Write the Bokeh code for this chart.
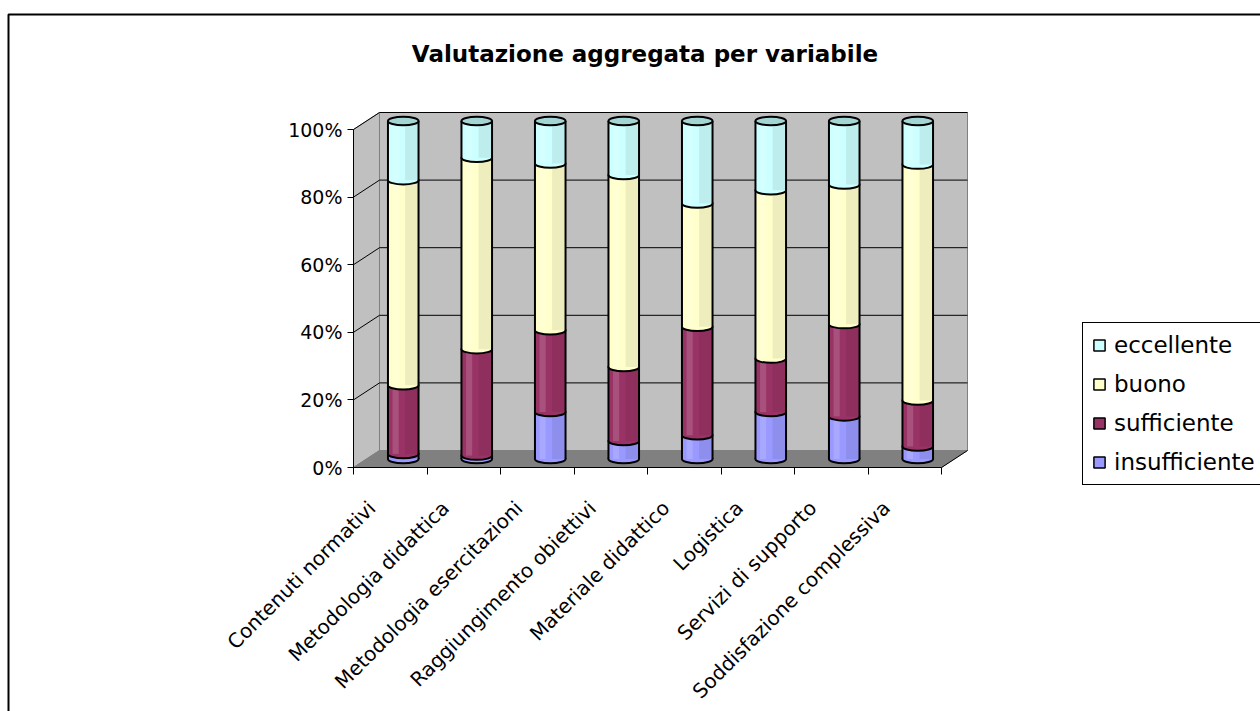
import numpy as np
from math import pi
from bokeh.plotting import figure
from bokeh.models import (Range1d, FixedTicker, NumeralTickFormatter, Legend, LegendItem,
                          Label, BoxAnnotation, ColumnDataSource)
from bokeh.embed import file_html
from bokeh.resources import INLINE

# ---------------- data ----------------
categories = ["Contenuti normativi", "Metodologia didattica", "Metodologia esercitazioni",
              "Raggiungimento obiettivi", "Materiale didattico", "Logistica",
              "Servizi di supporto", "Soddisfazione complessiva"]
insufficiente = [1.5, 1.0, 13.9, 5.3, 7.0, 13.9, 12.6, 3.7]
sufficiente = [20.3, 31.5, 24.2, 21.9, 32.1, 15.8, 27.3, 13.6]
buono = [60.7, 56.6, 49.3, 56.8, 36.5, 49.8, 41.3, 69.8]
eccellente = [17.5, 10.9, 12.6, 16.0, 24.4, 20.5, 18.8, 12.9]
series_names = ["insufficiente", "sufficiente", "buono", "eccellente"]
y_ticks = [0, 0.2, 0.4, 0.6, 0.8, 1.0]
title_text = "Valutazione aggregata per variabile"

# ---------------- layout / style ----------------
W, H = 1260, 711
FL, FR, FT, FB = 353, 967, 112, 467      # pixel box of the plotting cube
CAT_W = 73.5
PCT = 338.0
N = len(categories)
DX = (FR - FL) / CAT_W - N
DY = (FB - FT) / PCT - 1
X_END = N + DX
Y_END = 1 + DY
FONT = "DejaVu Sans"

colors = {"insufficiente": "#9999FF", "sufficiente": "#993366",
          "buono": "#FFFFCC", "eccellente": "#CCFFFF"}
CAP_COLOR = "#A3D5D5"
BW = 0.416
EH = 0.025


def sx(px):
    return (px - FL) / CAT_W


def sy(py):
    return (FB - py) / PCT


p = figure(width=W, height=H,
           x_range=Range1d(sx(0), sx(W)), y_range=Range1d(sy(H), sy(0)),
           output_backend="svg", toolbar_location=None,
           min_border_left=0, min_border_right=0,
           min_border_top=0, min_border_bottom=0,
           background_fill_color="white", border_fill_color="white",
           outline_line_color=None)
p.xgrid.visible = False
p.ygrid.visible = False

# walls and floor
p.quad(left=[DX], right=[X_END], bottom=[DY], top=[Y_END],
       fill_color="#C0C0C0", line_color="#808080", line_width=1)
p.patch([0, DX, DX, 0], [0, DY, Y_END, 1], fill_color="#C0C0C0",
        line_color="#808080", line_width=1)
p.patch([0, N, N + DX, DX], [0, 0, DY, DY], fill_color="#808080",
        line_color="#808080", line_width=1)
p.line([N, N + DX], [0, DY], line_color="black", line_width=1)
for k in y_ticks[1:]:
    p.line([0, DX, X_END], [k, k + DY, k + DY], line_color="black", line_width=1)

# bars (cylinders)
vals = {"insufficiente": insufficiente, "sufficiente": sufficiente,
        "buono": buono, "eccellente": eccellente}
xc = np.arange(N) + 0.5 + DX / 2
base = np.full(N, DY / 2)
legend_renderers = {}
for name in series_names:
    v = np.array(vals[name]) / 100.0
    top = base + v
    src = ColumnDataSource(dict(x=xc, y0=base, y1=top,
                                xs=xc + BW * 0.28, xh=xc - BW * 0.25))
    p.ellipse(x="x", y="y0", width=BW, height=EH, source=src,
              fill_color=colors[name], line_color="black", line_width=2)
    p.vbar(x="x", bottom="y0", top="y1", width=BW, source=src,
           fill_color=colors[name], line_color=None)
    p.vbar(x="xs", bottom="y0", top="y1", width=BW * 0.44, source=src,
           fill_color="black", fill_alpha=0.07, line_color=None)
    p.vbar(x="xh", bottom="y0", top="y1", width=BW * 0.2, source=src,
           fill_color="white", fill_alpha=0.15, line_color=None)
    # legend swatch renderer (same data, hidden in the plot)
    legend_renderers[name] = p.vbar(x="x", bottom="y0", top="y1", width=BW, source=src,
                                    fill_color=colors[name], line_color="black",
                                    line_width=1.5, visible=False)
    base = top

p.segment(x0=xc - BW / 2, y0=np.full(N, DY / 2), x1=xc - BW / 2, y1=base,
          line_color="black", line_width=2)
p.segment(x0=xc + BW / 2, y0=np.full(N, DY / 2), x1=xc + BW / 2, y1=base,
          line_color="black", line_width=2)
p.ellipse(x=xc, y=base, width=BW, height=EH, fill_color=CAP_COLOR,
          line_color="black", line_width=2)

# axes (fixed at the front edges of the cube)
yax = p.yaxis[0]
yax.fixed_location = 0
yax.ticker = FixedTicker(ticks=y_ticks)
yax.formatter = NumeralTickFormatter(format="0%")
yax.bounds = (0, 1)
yax.major_tick_out = 6
yax.major_tick_in = 0
yax.minor_tick_out = 0
yax.minor_tick_in = 0
yax.axis_line_color = "black"
yax.major_tick_line_color = "black"
yax.major_label_standoff = 5
yax.major_label_text_font = FONT
yax.major_label_text_font_size = "19px"
yax.major_label_text_color = "black"

LABEL_SHIFT = 0.25
label_pos = [round(i + 0.5 - LABEL_SHIFT, 3) for i in range(N)]
xax = p.xaxis[0]
xax.fixed_location = 0
xax.ticker = FixedTicker(ticks=label_pos, minor_ticks=list(range(N + 1)))
xax.major_label_overrides = {pos: cat for pos, cat in zip(label_pos, categories)}
xax.major_label_orientation = pi / 4
xax.bounds = (0, N)
xax.major_tick_out = 0
xax.major_tick_in = 0
xax.minor_tick_out = 7
xax.minor_tick_in = 0
xax.minor_tick_line_color = "black"
xax.axis_line_color = "black"
xax.major_label_standoff = 30
xax.major_label_text_font = FONT
xax.major_label_text_font_size = "20px"
xax.major_label_text_color = "black"

# legend
items = [LegendItem(label=name, renderers=[legend_renderers[name]])
         for name in ["eccellente", "buono", "sufficiente", "insufficiente"]]
LEG_H = 2 * 9 + 4 * 26 + 3 * 13
legend = Legend(items=items, location=(1082, H - (324 + LEG_H)),
                border_line_color="black", border_line_width=1, border_line_alpha=1,
                background_fill_color="white", background_fill_alpha=1,
                inactive_fill_alpha=0,
                glyph_width=14, glyph_height=14, label_height=24,
                label_text_font=FONT, label_text_font_size="23px",
                label_text_color="black",
                label_standoff=8, spacing=13, padding=9, margin=0)
p.add_layout(legend)

# title
p.add_layout(Label(x=sx(644.5), y=sy(53), text=title_text, text_align="center",
                   text_baseline="middle", text_font=FONT, text_font_style="bold",
                   text_font_size="23px", text_color="black"))

# outer chart border
p.add_layout(BoxAnnotation(left=sx(8), right=sx(1400), top=sy(14), bottom=sy(900),
                           fill_alpha=0, line_color="black", line_alpha=1,
                           line_width=2))

open("out.html", "w").write(file_html(p, INLINE))
